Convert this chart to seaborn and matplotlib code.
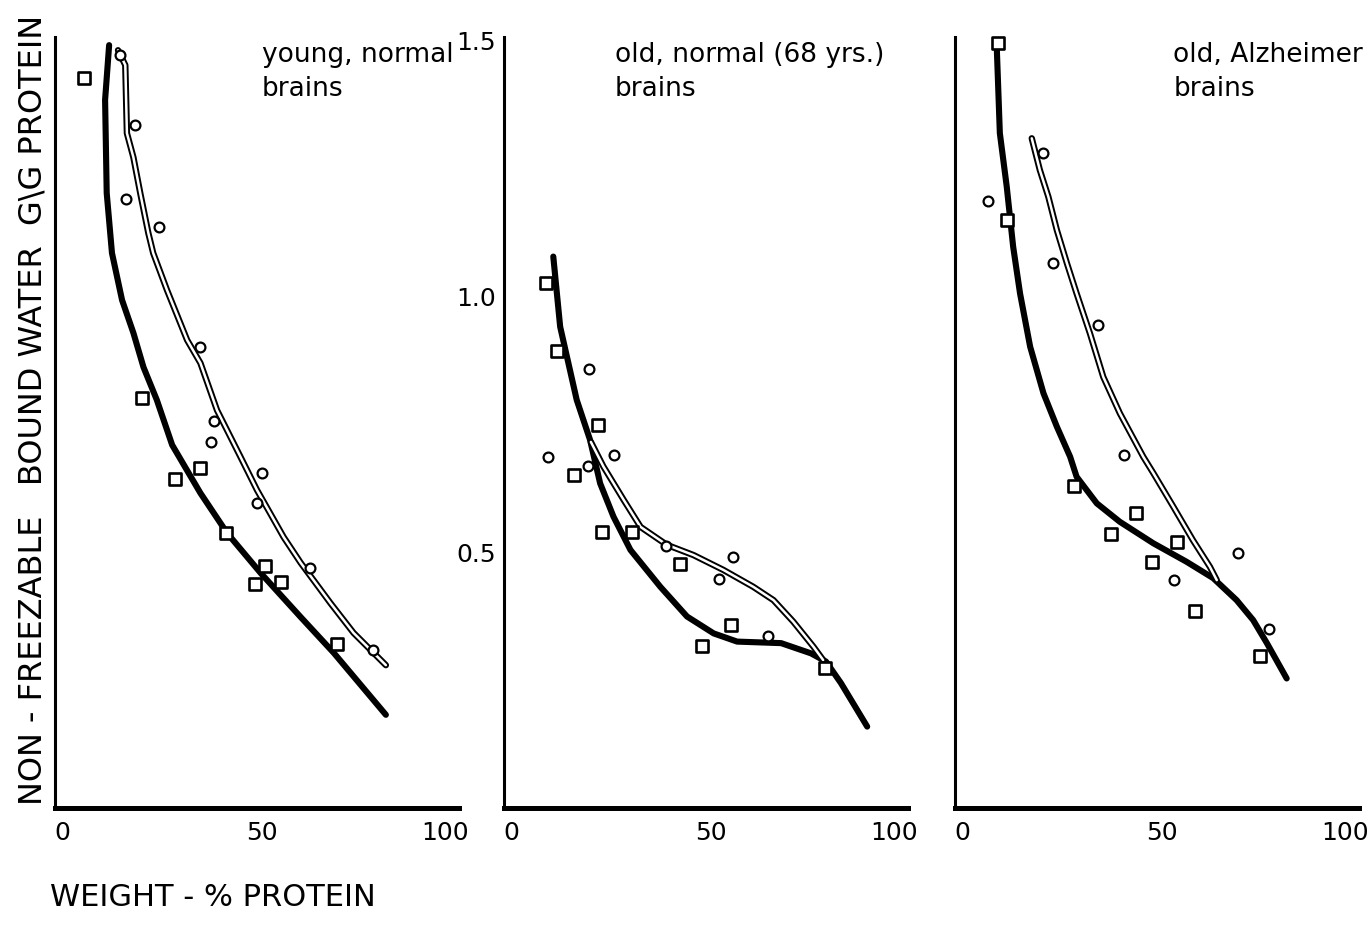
import numpy as np
import pandas as pd
import matplotlib
matplotlib.use("Agg")
import matplotlib.pyplot as plt
import seaborn as sns
from matplotlib.ticker import FixedLocator

# ============================================================
# Data
# ============================================================

# --- young, normal brains ---
young_sq_x = [7.2, 21.5, 29.6, 36.0, 42.4, 49.6, 51.9, 56.0, 69.9]
young_sq_y = [1.426, 0.800, 0.642, 0.665, 0.537, 0.437, 0.473, 0.442, 0.320]
young_ci_x = [16.1, 19.9, 17.6, 25.8, 35.8, 39.3, 38.7, 51.3, 50.0, 63.1, 78.6]
young_ci_y = [1.471, 1.334, 1.189, 1.135, 0.901, 0.755, 0.714, 0.654, 0.595, 0.468, 0.309]
young_thick_x = [13.4, 12.4, 12.8, 14.1, 16.6, 19.4, 21.9, 25.2, 29.0, 36.0, 42.6, 50.9, 60.8, 69.0, 81.9]
young_thick_y = [1.490, 1.383, 1.201, 1.084, 0.992, 0.928, 0.861, 0.797, 0.709, 0.615, 0.537, 0.459, 0.373, 0.303, 0.182]
young_thin_x = [15.6, 17.4, 17.8, 19.4, 21.1, 23.1, 24.3, 27.7, 32.7, 36.0, 40.1, 45.9, 50.0, 56.6, 60.8, 68.2, 73.9, 81.9]
young_thin_y = [1.480, 1.451, 1.318, 1.271, 1.201, 1.123, 1.084, 1.012, 0.914, 0.869, 0.777, 0.686, 0.621, 0.529, 0.479, 0.400, 0.342, 0.279]

# --- old, normal (68 yrs.) brains ---
old_sq_x = [10.4, 13.2, 23.3, 17.4, 24.2, 31.8, 43.6, 48.9, 56.1, 79.5]
old_sq_y = [1.026, 0.893, 0.748, 0.650, 0.540, 0.540, 0.477, 0.316, 0.357, 0.273]
old_ci_x = [11.0, 21.1, 27.3, 20.7, 40.0, 56.6, 53.1, 65.4]
old_ci_y = [0.686, 0.857, 0.689, 0.668, 0.512, 0.491, 0.447, 0.335]
old_thick_x = [12.2, 13.9, 18.0, 21.3, 23.8, 27.1, 31.3, 38.7, 45.3, 51.9, 57.7, 68.6, 76.0, 79.7, 83.4, 89.9]
old_thick_y = [1.077, 0.940, 0.797, 0.719, 0.634, 0.569, 0.504, 0.432, 0.374, 0.341, 0.325, 0.322, 0.302, 0.286, 0.244, 0.159]
old_thin_x = [21.5, 24.6, 29.6, 33.8, 40.3, 46.9, 54.3, 61.7, 66.7, 71.6, 76.6, 79.0]
old_thin_y = [0.715, 0.667, 0.602, 0.549, 0.514, 0.494, 0.465, 0.432, 0.406, 0.364, 0.315, 0.289]

# --- old, Alzheimer brains ---
alz_sq_x = [10.6, 12.9, 29.5, 38.6, 44.7, 48.7, 54.9, 59.4, 75.5]
alz_sq_y = [1.494, 1.148, 0.628, 0.535, 0.576, 0.481, 0.520, 0.385, 0.296]
alz_ci_x = [8.1, 21.9, 24.3, 35.5, 41.9, 54.3, 70.0, 77.8]
alz_ci_y = [1.186, 1.279, 1.064, 0.943, 0.689, 0.445, 0.499, 0.350]
alz_thick_x = [10.3, 11.1, 12.8, 14.4, 16.1, 18.6, 21.9, 25.2, 28.5, 30.1, 35.1, 40.8, 49.1, 57.3, 63.9, 69.7, 73.8, 77.2, 82.1]
alz_thick_y = [1.494, 1.318, 1.214, 1.096, 1.005, 0.901, 0.810, 0.745, 0.686, 0.647, 0.595, 0.559, 0.517, 0.481, 0.449, 0.406, 0.367, 0.322, 0.253]
alz_thin_x = [19.0, 21.0, 23.1, 25.2, 27.7, 30.1, 33.4, 36.7, 40.8, 46.6, 49.1, 54.0, 58.9, 63.1, 64.8]
alz_thin_y = [1.308, 1.246, 1.194, 1.129, 1.064, 1.005, 0.927, 0.842, 0.771, 0.686, 0.654, 0.589, 0.523, 0.471, 0.445]

panel_titles = ["young, normal\nbrains", "old, normal (68 yrs.)\nbrains", "old, Alzheimer\nbrains"]
title_x = [51.2, 27.5, 54.0]

x_tick_labels = ["0", "50", "100"]
y_tick_labels = ["0.5", "1.0", "1.5"]

panels = [
    (young_sq_x, young_sq_y, young_ci_x, young_ci_y, young_thick_x, young_thick_y, young_thin_x, young_thin_y),
    (old_sq_x, old_sq_y, old_ci_x, old_ci_y, old_thick_x, old_thick_y, old_thin_x, old_thin_y),
    (alz_sq_x, alz_sq_y, alz_ci_x, alz_ci_y, alz_thick_x, alz_thick_y, alz_thin_x, alz_thin_y),
]

# ============================================================
# Style
# ============================================================

sns.set_theme(style="white")
plt.rcParams["font.family"] = ["Liberation Sans Narrow", "DejaVu Sans Condensed", "DejaVu Sans"]

fig = plt.figure(figsize=(13.72, 9.25), dpi=100)

lefts = [55 / 1372, 504 / 1372, 955 / 1372]
bottom = 1 - 808 / 925
width = 404 / 1372
height = 768 / 925

for i, (sx, sy, cx, cy, tx, ty, nx, ny) in enumerate(panels):
    ax = fig.add_axes([lefts[i], bottom, width, height])

    # thick fitted line
    sns.lineplot(x=tx, y=ty, sort=False, estimator=None, color="black",
                 lw=4.4, ax=ax, zorder=2, clip_on=False)
    # hollow (outlined) fitted line
    sns.lineplot(x=nx, y=ny, sort=False, estimator=None, color="black",
                 lw=4.6, ax=ax, zorder=3, clip_on=False)
    sns.lineplot(x=nx, y=ny, sort=False, estimator=None, color="white",
                 lw=1.8, ax=ax, zorder=4, clip_on=False)

    # data points
    sns.scatterplot(x=sx, y=sy, marker="s", s=72, facecolor="white",
                    edgecolor="black", linewidth=1.9, ax=ax, zorder=5, clip_on=False)
    sns.scatterplot(x=cx, y=cy, marker="o", s=50, facecolor="white",
                    edgecolor="black", linewidth=1.6, ax=ax, zorder=5, clip_on=False)

    ax.set_xlim(0, 100)
    ax.set_ylim(0, 1.5)

    for side in ["top", "right"]:
        ax.spines[side].set_visible(False)
    ax.spines["left"].set_linewidth(2.2)
    ax.spines["bottom"].set_linewidth(3.6)
    ax.spines["left"].set_color("black")
    ax.spines["bottom"].set_color("black")
    ax.spines["left"].set_bounds(0, 1.505)

    # x: labels at 0/50/100 (set a little inward, as in the original plot), marks every 10
    ax.xaxis.set_major_locator(FixedLocator([1.8, 51.2, 96.5]))
    ax.xaxis.set_minor_locator(FixedLocator([10, 20, 30, 40, 50, 60, 70, 80, 90]))
    ax.set_xticklabels(x_tick_labels)
    ax.tick_params(axis="x", which="major", length=0, pad=9, labelsize=18, labelcolor="black")
    ax.tick_params(axis="x", which="minor", direction="in", length=11, width=1.6, color="black")

    # y: thick marks at 0.5 steps, thin every 0.1
    ax.yaxis.set_major_locator(FixedLocator([0.5, 1.0, 1.5]))
    ax.yaxis.set_minor_locator(FixedLocator([0.1, 0.2, 0.3, 0.4, 0.6, 0.7, 0.8, 0.9,
                                             1.1, 1.2, 1.3, 1.4]))
    ax.tick_params(axis="y", which="major", direction="in", length=10, width=3.0,
                   color="black", labelcolor="black", labelsize=18, pad=6)
    ax.tick_params(axis="y", which="minor", direction="in", length=9, width=1.6, color="black")
    if i == 1:
        ax.set_yticklabels(y_tick_labels)
    else:
        ax.set_yticklabels([])

    ax.set_xlabel("")
    ax.set_ylabel("")
    ax.grid(False)

    ax.text(title_x[i], 1.497, panel_titles[i], ha="left", va="top",
            fontsize=19, linespacing=1.4, color="black")

fig.text(33 / 1372, 1 - 410 / 925, "NON - FREEZABLE   BOUND WATER  G\\G PROTEIN",
         rotation=90, ha="center", va="center", fontsize=23, color="black")
fig.text(50 / 1372, 1 - 897 / 925, "WEIGHT - % PROTEIN",
         ha="left", va="center", fontsize=22, color="black")

fig.savefig("out.png", dpi=100, facecolor="white")
